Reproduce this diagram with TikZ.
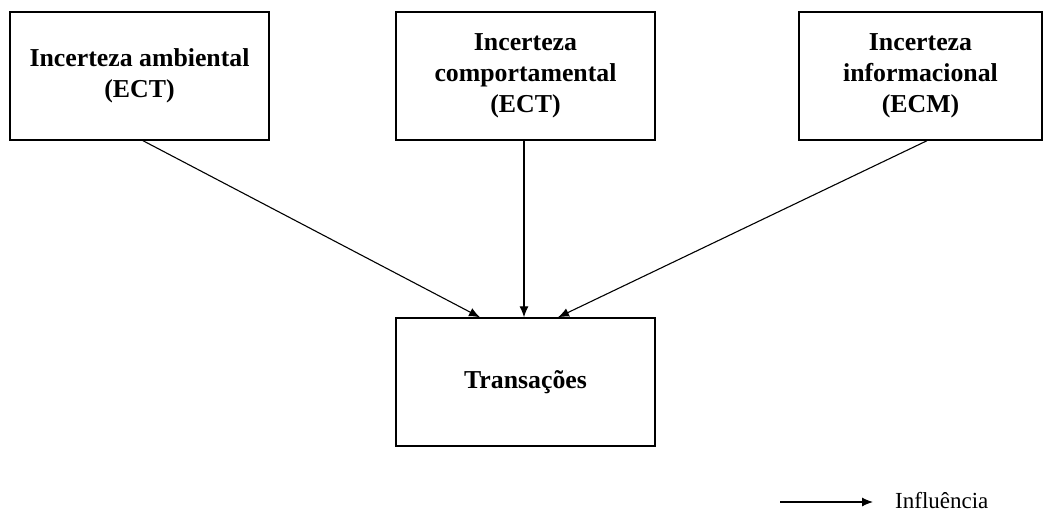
\documentclass[tikz,border=0pt]{standalone}
\usepackage{fontspec}
\setmainfont{Liberation Serif}
\usetikzlibrary{arrows.meta}
\begin{document}
\begin{tikzpicture}[x=1pt,y=-1pt,
  box/.style={draw, line width=1.4pt, rectangle, minimum height=128pt, align=center, inner sep=0pt,
    font=\fontsize{25.8}{31}\selectfont\bfseries},
  arr/.style={line width=1.1pt, -{Latex[length=11pt,width=9pt]}}]
\useasboundingbox (0,0) rectangle (1044,511);
\node[box, minimum width=259pt] (a) at (139.5,76) {Incerteza ambiental\\(ECT)};
\node[box, minimum width=259pt] (b) at (525.5,76) {Incerteza\\comportamental\\(ECT)};
\node[box, minimum width=243pt] (c) at (920.5,76) {Incerteza\\informacional\\(ECM)};
\node[box, minimum width=259pt] (t) at (525.5,382) {Transações};
\draw[arr] ([xshift=3.5pt]a.south) -- ([xshift=-45.5pt]t.north);
\draw[arr] ([xshift=-1.5pt]b.south) -- ([xshift=-1.5pt]t.north);
\draw[arr] ([xshift=6.5pt]c.south) -- ([xshift=32.5pt]t.north);
\coordinate (l1) at (780,502);
\coordinate (l2) at (873,502);
\draw[arr] (l1) -- (l2);
\node[anchor=base west, inner sep=0pt, font=\fontsize{23}{27}\selectfont] (lt) at (895,508) {Influência};
\end{tikzpicture}
\end{document}
